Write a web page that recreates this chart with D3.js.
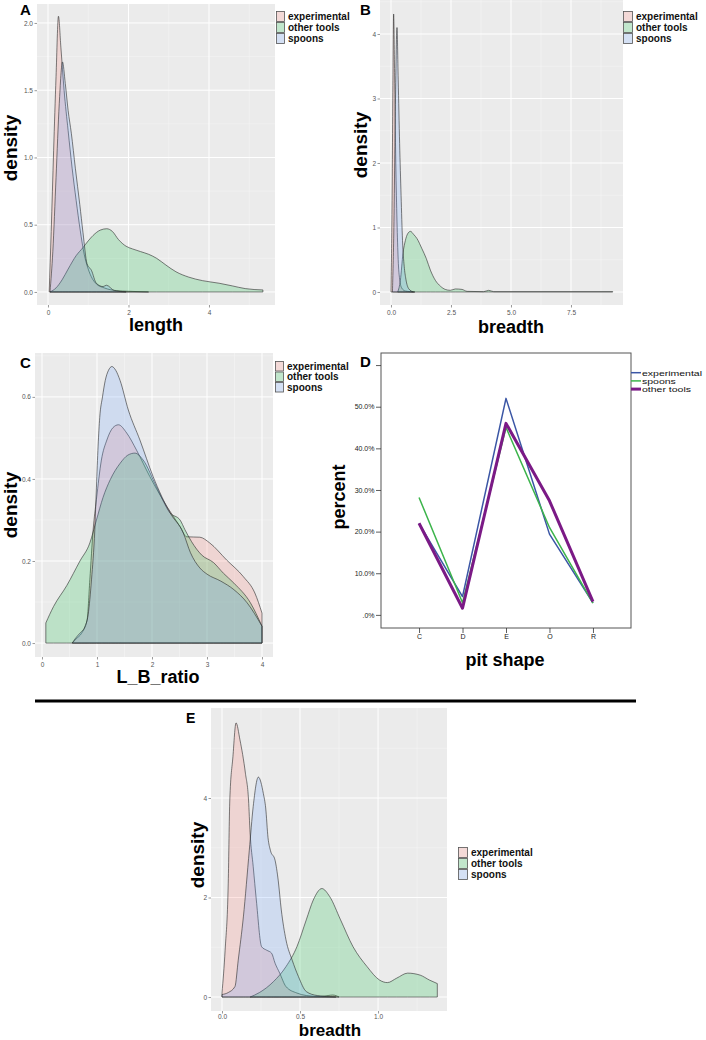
<!DOCTYPE html>
<html><head><meta charset="utf-8">
<script src="https://cdn.jsdelivr.net/npm/d3@7"></script>
<style>
body{margin:0;background:#fff;}
svg{display:block;font-family:"Liberation Sans",Arial,Helvetica,sans-serif;}
</style>
</head><body>
<svg id="chart" width="706" height="1040"></svg>
<script>
// ---------------- DATA ----------------
const groups = ["experimental", "other tools", "spoons"];
const groupColors = ["#F8766D", "#00BA38", "#619CFF"];

// Panel A: length densities [value, density]
const lengthExperimental = [[0.03,0],[0.08,0.45],[0.14,1.05],[0.2,1.6],[0.26,2.05],[0.32,1.82],[0.4,1.5],[0.5,1.2],[0.6,0.92],[0.7,0.68],[0.8,0.46],[0.9,0.28],[1.0,0.17],[1.1,0.1],[1.2,0.06],[1.4,0.03],[1.7,0.01],[2.0,0.005],[2.5,0]];
const lengthOtherTools = [[0.05,0],[0.2,0.03],[0.35,0.09],[0.5,0.17],[0.7,0.27],[0.87,0.33],[1.0,0.38],[1.12,0.42],[1.3,0.46],[1.46,0.47],[1.6,0.45],[1.75,0.39],[1.94,0.34],[2.1,0.32],[2.3,0.3],[2.5,0.28],[2.7,0.25],[2.93,0.2],[3.18,0.15],[3.5,0.11],[3.84,0.084],[4.25,0.065],[4.58,0.045],[4.9,0.025],[5.34,0.015]];
const lengthSpoons = [[0.05,0],[0.12,0.3],[0.2,0.85],[0.28,1.4],[0.36,1.71],[0.43,1.55],[0.5,1.35],[0.58,1.18],[0.68,0.92],[0.79,0.65],[0.87,0.44],[0.97,0.21],[1.08,0.16],[1.2,0.065],[1.37,0.04],[1.45,0.05],[1.65,0.01],[1.94,0]];

// Panel B: breadth densities
const breadthExperimental = [[0.0,0],[0.04,1.2],[0.08,3.2],[0.11,4.31],[0.15,3.4],[0.2,2.0],[0.25,1.1],[0.3,0.5],[0.36,0.2],[0.45,0.06],[0.6,0.015],[0.8,0.005],[1.0,0]];
const breadthOtherTools = [[0.28,0],[0.39,0.18],[0.5,0.6],[0.6,0.8],[0.69,0.9],[0.81,0.94],[0.95,0.89],[1.08,0.83],[1.29,0.67],[1.47,0.52],[1.64,0.34],[1.85,0.18],[2.06,0.09],[2.26,0.04],[2.47,0.026],[2.68,0.047],[2.96,0.04],[3.17,0.01],[3.86,0.005],[4.07,0.026],[4.28,0.005],[9.24,0.005]];
const breadthSpoons = [[0.06,0],[0.12,1.0],[0.18,2.8],[0.25,4.1],[0.3,3.3],[0.36,2.3],[0.42,1.5],[0.48,0.8],[0.55,0.4],[0.62,0.2],[0.74,0.05],[0.94,0]];

// Panel C: L_B_ratio densities
const ratioExperimental = [[0.55,0],[0.62,0.01],[0.72,0.024],[0.82,0.056],[0.87,0.154],[0.93,0.276],[0.99,0.35],[1.08,0.446],[1.18,0.495],[1.29,0.525],[1.39,0.532],[1.54,0.512],[1.72,0.47],[1.96,0.406],[2.27,0.333],[2.51,0.284],[2.63,0.259],[2.87,0.258],[3.05,0.244],[3.36,0.202],[3.66,0.162],[3.87,0.122],[4.0,0.073]];
const ratioOtherTools = [[0.07,0.049],[0.21,0.089],[0.45,0.14],[0.69,0.2],[0.87,0.244],[0.99,0.3],[1.11,0.355],[1.24,0.398],[1.42,0.438],[1.56,0.458],[1.69,0.463],[1.84,0.446],[2.08,0.381],[2.33,0.317],[2.51,0.3],[2.6,0.276],[2.72,0.247],[2.9,0.215],[3.12,0.196],[3.3,0.17],[3.49,0.146],[3.79,0.098],[4.0,0.041]];
const ratioSpoons = [[0.55,0],[0.6,0.01],[0.69,0.024],[0.78,0.04],[0.84,0.07],[0.9,0.154],[0.96,0.276],[0.99,0.38],[1.02,0.48],[1.05,0.55],[1.1,0.6],[1.15,0.64],[1.21,0.665],[1.27,0.674],[1.34,0.665],[1.42,0.64],[1.57,0.568],[1.78,0.495],[2.02,0.406],[2.33,0.317],[2.57,0.268],[2.7,0.22],[2.87,0.183],[3.0,0.168],[3.25,0.151],[3.49,0.13],[3.73,0.098],[4.0,0.041]];

// Panel D: pit shape percentages
const pitShapes = ["C", "D", "E", "O", "R"];
const pitExperimental = [22.0, 4.4, 52.0, 19.4, 2.9];
const pitSpoons = [28.2, 2.9, 45.0, 21.0, 2.8];
const pitOtherTools = [22.0, 1.6, 46.0, 27.4, 3.2];
const pitTickValues = [0, 10, 20, 30, 40, 50, 60];
const pitTickLabels = [".0%", "10.0%", "20.0%", "30.0%", "40.0%", "50.0%", ""];

// Panel E: breadth (restricted) densities
const breadthEExperimental = [[0.0,0.08],[0.02,0.94],[0.04,2.29],[0.05,3.96],[0.07,4.83],[0.09,5.51],[0.115,5.17],[0.15,4.5],[0.17,3.96],[0.18,3.3],[0.2,2.62],[0.22,1.95],[0.254,1.01],[0.287,0.94],[0.318,0.88],[0.34,0.68],[0.37,0.48],[0.41,0.21],[0.48,0.08],[0.54,0.03],[0.63,0.01],[0.68,0.03],[0.71,0.04],[0.75,0]];
const breadthEOtherTools = [[0.18,0],[0.24,0.09],[0.33,0.31],[0.41,0.61],[0.48,1.01],[0.54,1.55],[0.585,1.95],[0.64,2.18],[0.69,2.02],[0.76,1.55],[0.84,1.01],[0.93,0.61],[1.01,0.34],[1.06,0.29],[1.12,0.38],[1.19,0.48],[1.27,0.44],[1.33,0.34],[1.38,0.27]];
const breadthESpoons = [[0.0,0.05],[0.04,0.09],[0.083,0.21],[0.104,0.74],[0.137,1.61],[0.175,2.95],[0.2,3.83],[0.233,4.42],[0.265,4.09],[0.28,3.8],[0.295,3.2],[0.31,2.95],[0.34,2.75],[0.36,2.35],[0.38,1.75],[0.41,1.15],[0.45,0.74],[0.49,0.41],[0.54,0.11],[0.61,0.03],[0.73,0]];

// tick values
const ticksA_x = [0, 2, 4], ticksA_y = [0, 0.5, 1.0, 1.5, 2.0];
const ticksB_x = [0, 2.5, 5.0, 7.5], ticksB_y = [0, 1, 2, 3, 4];
const ticksC_x = [0, 1, 2, 3, 4], ticksC_y = [0, 0.2, 0.4, 0.6];
const ticksE_x = [0, 0.5, 1.0], ticksE_y = [0, 2, 4];

// ---------------- DRAWING ----------------
const svg = d3.select("#chart");
const FONT = '"Liberation Sans",Arial,Helvetica,sans-serif';

function midpoints(ticks, lo, hi) {
  const step = ticks[1] - ticks[0];
  const out = [];
  for (let v = ticks[0] - step / 2; v <= hi; v += step) if (v >= lo) out.push(+v.toFixed(6));
  return out;
}

function densityPanel(o) {
  const g = svg.append("g");
  const x = d3.scaleLinear().domain(o.xDomain).range([o.left, o.right]);
  const y = d3.scaleLinear().domain(o.yDomain).range([o.bottom, o.top]);
  g.append("rect").attr("x", o.left).attr("y", o.top)
    .attr("width", o.right - o.left).attr("height", o.bottom - o.top).attr("fill", "#ebebeb");
  const xMinor = midpoints(o.xTicks, o.xDomain[0], o.xDomain[1]);
  const yMinor = midpoints(o.yTicks, o.yDomain[0], o.yDomain[1]);
  xMinor.forEach(v => g.append("line").attr("x1", x(v)).attr("x2", x(v)).attr("y1", o.top).attr("y2", o.bottom).attr("stroke", "#f7f7f7").attr("stroke-width", 0.5));
  yMinor.forEach(v => g.append("line").attr("y1", y(v)).attr("y2", y(v)).attr("x1", o.left).attr("x2", o.right).attr("stroke", "#f7f7f7").attr("stroke-width", 0.5));
  o.xTicks.forEach(v => g.append("line").attr("x1", x(v)).attr("x2", x(v)).attr("y1", o.top).attr("y2", o.bottom).attr("stroke", "#fff").attr("stroke-width", 1));
  o.yTicks.forEach(v => g.append("line").attr("y1", y(v)).attr("y2", y(v)).attr("x1", o.left).attr("x2", o.right).attr("stroke", "#fff").attr("stroke-width", 1));

  const area = d3.area().x(d => x(d[0])).y0(y(0)).y1(d => y(d[1])).curve(d3.curveMonotoneX);
  o.series.forEach((s, i) => {
    g.append("path").attr("d", area(s)).attr("fill", groupColors[i]).attr("fill-opacity", 0.2)
      .attr("stroke", "#2a2a2a").attr("stroke-width", 0.6).attr("stroke-linejoin", "round");
  });

  const xa = g.append("g").attr("transform", `translate(0,${o.bottom})`)
    .call(d3.axisBottom(x).tickValues(o.xTicks).tickFormat(d3.format(o.xFmt)).tickSize(2.5).tickPadding(o.xPad == null ? 2.5 : o.xPad));
  const ya = g.append("g").attr("transform", `translate(${o.left},0)`)
    .call(d3.axisLeft(y).tickValues(o.yTicks).tickFormat(d3.format(o.yFmt)).tickSize(2.5).tickPadding(1.5));
  [xa, ya].forEach(a => {
    a.select(".domain").remove();
    a.selectAll("line").attr("stroke", "#555").attr("stroke-width", 0.6);
    a.selectAll("text").attr("fill", "#555").attr("font-size", 6.5).attr("font-family", FONT);
  });

  // titles
  g.append("text").attr("x", o.xTitleX).attr("y", o.xTitleY).attr("text-anchor", "middle")
    .attr("font-weight", "bold").attr("font-size", o.xTitleSize || 18).text(o.xTitle);
  g.append("text").attr("transform", `translate(${o.yTitleX},${o.yTitleY}) rotate(-90)`).attr("text-anchor", "middle")
    .attr("font-weight", "bold").attr("font-size", 19).text("density");
  g.append("text").attr("x", o.letterX).attr("y", o.letterY).attr("font-weight", "bold")
    .attr("font-size", o.letterSize || 15).text(o.letter);

  // legend
  groups.forEach((name, i) => {
    const ky = o.legendY + i * o.keyH;
    g.append("rect").attr("x", o.legendX).attr("y", ky).attr("width", o.keyW).attr("height", o.keyH).attr("fill", "#f2f2f2");
    g.append("rect").attr("x", o.legendX + 0.5).attr("y", ky + 0.5).attr("width", o.keyW - 1).attr("height", o.keyH - 1)
      .attr("fill", groupColors[i]).attr("fill-opacity", 0.2).attr("stroke", "#555").attr("stroke-width", 0.8);
    g.append("text").attr("x", o.legendX + o.keyW + 3).attr("y", ky + o.keyH / 2 + 3.5)
      .attr("font-size", 10).attr("font-weight", "bold").attr("fill", "#111").text(name);
  });
}

densityPanel({
  left: 37, right: 275, top: 4, bottom: 305,
  xDomain: [-0.273, 5.64], yDomain: [-0.097, 2.141],
  xTicks: ticksA_x, yTicks: ticksA_y, xFmt: "d", yFmt: ".1f",
  series: [lengthExperimental, lengthOtherTools, lengthSpoons],
  xTitle: "length", xTitleX: 156, xTitleY: 331,
  yTitleX: 17, yTitleY: 148,
  letter: "A", letterX: 20, letterY: 15,
  legendX: 276, legendY: 11, keyW: 9, keyH: 11
});

densityPanel({
  left: 380, right: 623, top: 0, bottom: 305,
  xDomain: [-0.458, 9.667], yDomain: [-0.2016, 4.527],
  xTicks: ticksB_x, yTicks: ticksB_y, xFmt: ".1f", yFmt: "d",
  series: [breadthExperimental, breadthOtherTools, breadthSpoons],
  xTitle: "breadth", xTitleX: 511, xTitleY: 333,
  yTitleX: 367, yTitleY: 145,
  letter: "B", letterX: 360, letterY: 15,
  legendX: 623, legendY: 11, keyW: 10, keyH: 11
});

densityPanel({
  left: 35, right: 273, top: 353, bottom: 657,
  xDomain: [-0.127, 4.2], yDomain: [-0.034, 0.707],
  xTicks: ticksC_x, yTicks: ticksC_y, xFmt: "d", yFmt: ".1f",
  series: [ratioExperimental, ratioOtherTools, ratioSpoons],
  xTitle: "L_B_ratio", xTitleX: 158, xTitleY: 683,
  yTitleX: 17, yTitleY: 505,
  letter: "C", letterX: 20, letterY: 368,
  legendX: 275, legendY: 361, keyW: 9, keyH: 10.5
});

densityPanel({
  left: 211, right: 447, top: 708, bottom: 1011,
  xDomain: [-0.0705, 1.442], yDomain: [-0.281, 5.809],
  xTicks: ticksE_x, yTicks: ticksE_y, xFmt: ".1f", yFmt: "d", xPad: 1,
  series: [breadthEExperimental, breadthEOtherTools, breadthESpoons],
  xTitle: "breadth", xTitleX: 330, xTitleY: 1036, xTitleSize: 17,
  yTitleX: 204, yTitleY: 855,
  letter: "E", letterX: 186, letterY: 723, letterSize: 14,
  legendX: 458, legendY: 847, keyW: 10, keyH: 11
});

// ---------- Panel D ----------
(function () {
  const L = 381, R = 631, T = 353, B = 628;
  const g = svg.append("g");
  const x = d3.scalePoint().domain(pitShapes).range([L, R]).padding(0.875);
  const y = d3.scaleLinear().domain([-3.15, 62.9]).range([B, T]);
  g.append("rect").attr("x", L).attr("y", T).attr("width", R - L).attr("height", B - T)
    .attr("fill", "#fff").attr("stroke", "#555").attr("stroke-width", 1);
  const ya = g.append("g").attr("transform", `translate(${L},0)`)
    .call(d3.axisLeft(y).tickValues(pitTickValues).tickFormat((d, i) => pitTickLabels[i]).tickSize(5).tickPadding(1.5));
  const xa = g.append("g").attr("transform", `translate(0,${B})`)
    .call(d3.axisBottom(x).tickSize(5).tickPadding(1.5));
  [xa, ya].forEach(a => {
    a.select(".domain").remove();
    a.selectAll("line").attr("stroke", "#333").attr("stroke-width", 0.8);
    a.selectAll("text").attr("fill", "#222").attr("font-size", 7).attr("font-family", FONT);
  });
  const line = d3.line().x((d, i) => x(pitShapes[i])).y(d => y(d));
  const seriesD = [
    { name: "experimental", vals: pitExperimental, color: "#3b56a5", w: 1.5 },
    { name: "spoons", vals: pitSpoons, color: "#3cb44b", w: 1.5 },
    { name: "other tools", vals: pitOtherTools, color: "#7b1a86", w: 3 }
  ];
  seriesD.forEach(s => {
    g.append("path").attr("d", line(s.vals)).attr("fill", "none").attr("stroke", s.color)
      .attr("stroke-width", s.w).attr("stroke-linejoin", "round");
  });
  seriesD.forEach((s, i) => {
    const ly = 372.7 + i * 8.2;
    g.append("line").attr("x1", R).attr("x2", R + 10).attr("y1", ly).attr("y2", ly)
      .attr("stroke", s.color).attr("stroke-width", s.w);
    g.append("text").attr("transform", `translate(${R + 11},${ly + 3}) scale(1,0.75)`)
      .attr("font-size", 10.5).attr("fill", "#111").text(s.name);
  });
  g.append("text").attr("transform", `translate(345,497) rotate(-90)`).attr("text-anchor", "middle")
    .attr("font-weight", "bold").attr("font-size", 18).text("percent");
  g.append("text").attr("x", 505).attr("y", 666).attr("text-anchor", "middle")
    .attr("font-weight", "bold").attr("font-size", 18).text("pit shape");
  g.append("text").attr("x", 360).attr("y", 367).attr("font-weight", "bold").attr("font-size", 15).text("D");
})();

// separator
svg.append("line").attr("x1", 35).attr("x2", 636).attr("y1", 701).attr("y2", 701)
  .attr("stroke", "#000").attr("stroke-width", 3.2);
</script>
</body></html>
